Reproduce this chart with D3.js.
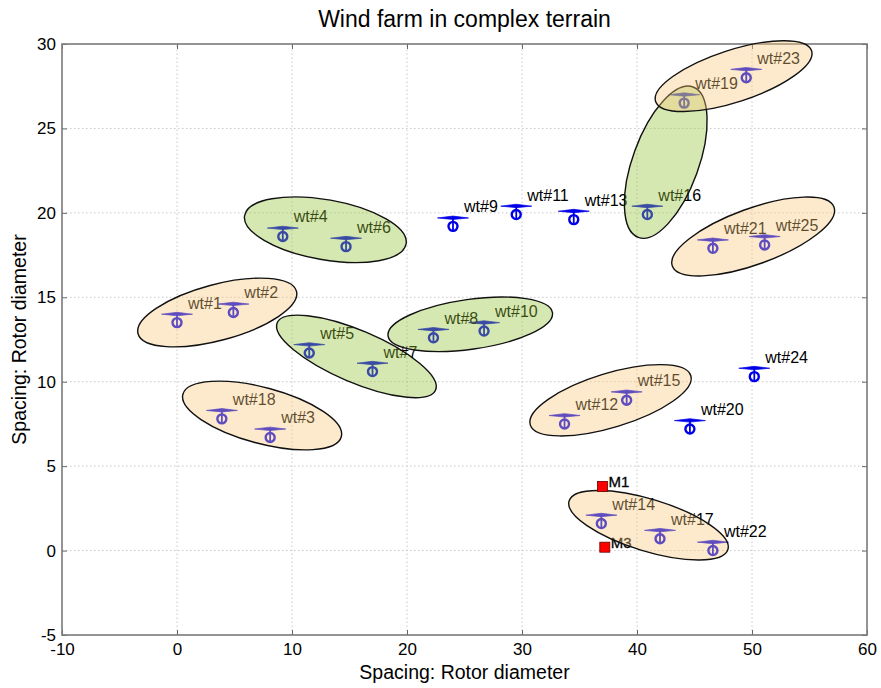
<!DOCTYPE html>
<html>
<head>
<meta charset="utf-8">
<script src="https://cdn.jsdelivr.net/npm/d3@7"></script>
<style>
  html, body { margin: 0; padding: 0; background: #fff; }
  text { font-family: "Liberation Sans", Arial, sans-serif; }
</style>
</head>
<body>
<svg id="chart" width="881" height="688"></svg>
<script>
// Turbine layout (spacing in rotor diameters)
const turbineIds = ["wt#1","wt#2","wt#3","wt#4","wt#5","wt#6","wt#7","wt#8","wt#9","wt#10",
                    "wt#11","wt#12","wt#13","wt#14","wt#15","wt#16","wt#17","wt#18","wt#19","wt#20",
                    "wt#21","wt#22","wt#23","wt#24","wt#25"];
const turbineX = [0.0, 4.9, 8.1, 9.2, 11.5, 14.7, 17.0, 22.3, 24.0, 26.7,
                  29.5, 33.7, 34.5, 36.9, 39.1, 40.9, 42.0, 3.9, 44.1, 44.6,
                  46.6, 46.6, 49.5, 50.2, 51.1];
const turbineY = [13.5, 14.1, 6.7, 18.6, 11.7, 18.0, 10.6, 12.6, 19.2, 13.0,
                  19.9, 7.5, 19.6, 1.6, 8.9, 19.9, 0.7, 7.8, 26.5, 7.2,
                  17.9, 0.0, 28.0, 10.3, 18.1];

// Met masts
const mastIds = ["M1", "M3"];
const mastX = [37.0, 37.2];
const mastY = [3.8, 0.2];

// Turbine clusters: centre, semi-axes (x units), tilt (deg), group
const clusterCx = [3.5, 7.4, 12.9, 15.6, 25.5, 42.5, 48.4, 50.1, 37.7, 41.0];
const clusterCy = [14.1, 8.0, 19.0, 11.5, 13.4, 23.0, 28.1, 18.6, 8.9, 1.5];
const clusterA  = [7.13, 7.13, 7.13, 7.48, 7.22, 6.96, 7.13, 7.48, 7.30, 7.22];
const clusterB  = [2.43, 2.43, 2.61, 2.26, 2.17, 2.87, 2.26, 2.43, 2.35, 2.26];
const clusterTilt = [15, -15, -10, -23, 8, 70, 18, 20, 17, -17];
const clusterGroup = ["A","A","B","B","B","B","A","A","A","A"];

const xTicks = [-10, 0, 10, 20, 30, 40, 50, 60];
const yTicks = [-5, 0, 5, 10, 15, 20, 25, 30];

const margin = {left: 62, right: 14, top: 44, bottom: 53};
const W = 881, H = 688;
const svg = d3.select("#chart");

const x = d3.scaleLinear().domain([-10, 60]).range([margin.left, W - margin.right]);
const y = d3.scaleLinear().domain([-5, 30]).range([H - margin.bottom, margin.top]);
const pxPerX = x(1) - x(0);

const groupFill = {A: "rgb(250,200,124)", B: "rgb(147,195,53)"};
const groupAlpha = 0.38;

// Grid
const grid = svg.append("g");
grid.selectAll(".gx").data(xTicks.slice(1, -1)).join("line")
  .attr("x1", d => x(d)).attr("x2", d => x(d))
  .attr("y1", y(-5)).attr("y2", y(30))
  .attr("stroke", "#c8c8c8").attr("stroke-width", 1).attr("stroke-dasharray", "1.5,2.5");
grid.selectAll(".gy").data(yTicks.slice(1, -1)).join("line")
  .attr("y1", d => y(d)).attr("y2", d => y(d))
  .attr("x1", x(-10)).attr("x2", x(60))
  .attr("stroke", "#c8c8c8").attr("stroke-width", 1).attr("stroke-dasharray", "1.5,2.5");

// Axes (ticks inward on all four sides)
const axisColor = "#666";
const plain = d => String(d);
function styleAxis(g) {
  g.select(".domain").remove();
  g.selectAll(".tick line").attr("stroke", axisColor).attr("stroke-width", 1);
  g.selectAll(".tick text").attr("fill", "#000").attr("font-size", 17)
    .attr("font-family", "'Liberation Sans', Arial, sans-serif");
}
svg.append("g").attr("transform", `translate(0,${y(-5)})`)
  .call(d3.axisBottom(x).tickValues(xTicks).tickFormat(plain).tickSizeInner(-5).tickSizeOuter(0).tickPadding(8))
  .call(styleAxis);
svg.append("g").attr("transform", `translate(${x(-10)},0)`)
  .call(d3.axisLeft(y).tickValues(yTicks).tickFormat(plain).tickSizeInner(-5).tickSizeOuter(0).tickPadding(6))
  .call(styleAxis);
svg.append("g").attr("transform", `translate(0,${y(30)})`)
  .call(d3.axisTop(x).tickValues(xTicks).tickSizeInner(-5).tickSizeOuter(0))
  .call(g => { styleAxis(g); g.selectAll(".tick text").remove(); });
svg.append("g").attr("transform", `translate(${x(60)},0)`)
  .call(d3.axisRight(y).tickValues(yTicks).tickSizeInner(-5).tickSizeOuter(0))
  .call(g => { styleAxis(g); g.selectAll(".tick text").remove(); });

svg.append("rect")
  .attr("x", x(-10)).attr("y", y(30))
  .attr("width", x(60) - x(-10)).attr("height", y(-5) - y(30))
  .attr("fill", "none").attr("stroke", "#7a7a7a").attr("stroke-width", 1.6);

// Turbine glyphs: tapered rotor, tower and hub circle
const turbines = turbineIds.map((id, i) => ({id, x: turbineX[i], y: turbineY[i]}));
const tg = svg.append("g").selectAll("g").data(turbines).join("g")
  .attr("transform", d => `translate(${x(d.x)},${y(d.y)})`);
const blue = "#0000e8";
tg.append("path")
  .attr("d", "M-15.5,-8.4 L0,-10.3 L15.5,-8.4 L0,-6.9 Z")
  .attr("fill", blue).attr("stroke", blue).attr("stroke-width", 0.7);
tg.append("line").attr("x1", 0).attr("x2", 0).attr("y1", -8.5).attr("y2", 4.8)
  .attr("stroke", blue).attr("stroke-width", 1.8);
tg.append("circle").attr("r", 4.5)
  .attr("fill", "none").attr("stroke", blue).attr("stroke-width", 2.4);
svg.append("g").selectAll("text").data(turbines).join("text")
  .attr("x", d => x(d.x) + 11).attr("y", d => y(d.y) - 14)
  .attr("font-size", 16).attr("fill", "#000")
  .text(d => d.id);

// Mast labels (under the cluster shading)
const masts = mastIds.map((id, i) => ({id, x: mastX[i], y: mastY[i]}));
svg.append("g").selectAll("text").data(masts).join("text")
  .attr("x", d => x(d.x) + 6).attr("y", d => y(d.y) + 1)
  .attr("font-size", 15).attr("fill", "#000")
  .attr("stroke", "#000").attr("stroke-width", 0.3)
  .text(d => d.id);

// Cluster ellipses drawn translucent over the turbines
const clusters = clusterCx.map((cx, i) => ({
  cx, cy: clusterCy[i], a: clusterA[i], b: clusterB[i], tilt: clusterTilt[i], g: clusterGroup[i]
}));
svg.append("g").selectAll("ellipse").data(clusters).join("ellipse")
  .attr("transform", d => `translate(${x(d.cx)},${y(d.cy)}) rotate(${-d.tilt})`)
  .attr("rx", d => d.a * pxPerX).attr("ry", d => d.b * pxPerX)
  .attr("fill", d => groupFill[d.g]).attr("fill-opacity", groupAlpha)
  .attr("stroke", "#111").attr("stroke-width", 1.4);

// Met mast markers
svg.append("g").selectAll("rect").data(masts).join("rect")
  .attr("x", d => x(d.x) - 5).attr("y", d => y(d.y) - 5)
  .attr("width", 10).attr("height", 10)
  .attr("fill", "#ff0000").attr("stroke", "#600").attr("stroke-width", 0.8);

// Titles
svg.append("text").attr("x", (x(-10) + x(60)) / 2).attr("y", 27)
  .attr("text-anchor", "middle").attr("font-size", 23).text("Wind farm in complex terrain");
svg.append("text").attr("x", (x(-10) + x(60)) / 2).attr("y", 679)
  .attr("text-anchor", "middle").attr("font-size", 19.5).text("Spacing: Rotor diameter");
svg.append("text").attr("transform", `translate(26,${(y(-5) + y(30)) / 2}) rotate(-90)`)
  .attr("text-anchor", "middle").attr("font-size", 19.5).text("Spacing: Rotor diameter");
</script>
</body>
</html>
